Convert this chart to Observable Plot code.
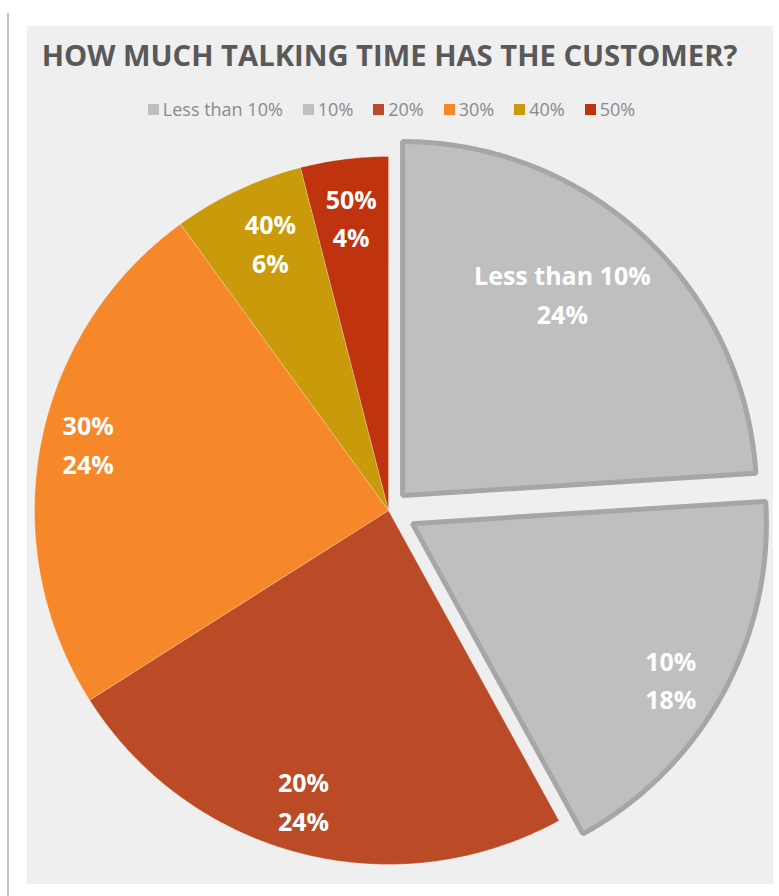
<!DOCTYPE html>
<html>
<head>
<meta charset="utf-8">
<script src="https://cdn.jsdelivr.net/npm/d3@7"></script>
<script src="https://cdn.jsdelivr.net/npm/@observablehq/plot@0.6"></script>
<style>
  html, body { margin: 0; padding: 0; background: #ffffff; }
  body { width: 779px; height: 896px; position: relative; overflow: hidden; font-family: "Open Sans", sans-serif; }
  #edge { position: absolute; left: 7px; top: 13px; width: 2px; height: 883px; background: #c4c4c4; }
  #panel { position: absolute; left: 27px; top: 26px; width: 746px; height: 858px; background: #efefef; }
  #title { position: absolute; left: 0; width: 779px; text-align: center; white-space: nowrap;
           font-weight: 700; color: #595959; line-height: 1; }
  #title span { display: inline-block; }
  #legend { position: absolute; left: 0; width: 783px; display: flex; justify-content: center;
            font-size: 18px; line-height: 18px; color: #8a8a8a; }
  .item { display: flex; align-items: center; margin: 0 10px; }
  .swatch { width: 11px; height: 11px; margin-right: 4px; }
  #chart { position: absolute; left: 0; top: 0; }
</style>
</head>
<body>
<div id="edge"></div>
<div id="panel"></div>
<div id="title"><span>HOW MUCH TALKING TIME HAS THE CUSTOMER?</span></div>
<div id="legend"></div>
<div id="chart"></div>
<script>
// ---- data ----
const categories = ["Less than 10%", "10%", "20%", "30%", "40%", "50%"];
const shares = [24, 18, 24, 24, 6, 4];
const colors = ["#bfbfbf", "#bfbfbf", "#bb4b27", "#f7882a", "#c99a09", "#c0330f"];

// ---- layout (styling, not data) ----
const explode = [0.058, 0.077, 0, 0, 0, 0];      // fraction of radius
const labelRadius = [0.73, 0.85, 0.85, 0.87, 0.83, 0.84];
const labelTurn = [-5, 2, 2, 2, 1.5, 0];          // degrees

const rows = categories.map((c, i) => ({category: c, share: shares[i], color: colors[i], i}));
const arcs = d3.pie().sort(null).value(d => d.share)(rows);

const sliceMarks = [];
const labels = [];
const order = [2, 3, 4, 5, 0, 1];
for (const k of order) {
  const a = arcs[k];
  const d = a.data;
  const mid = (a.startAngle + a.endAngle) / 2;
  const ox = explode[k] * Math.sin(mid), oy = explode[k] * Math.cos(mid);
  const pts = [{x: ox, y: oy}];
  const n = Math.max(2, Math.ceil((a.endAngle - a.startAngle) / (Math.PI / 360)));
  for (let j = 0; j <= n; j++) {
    const t = a.startAngle + (a.endAngle - a.startAngle) * j / n;
    pts.push({x: ox + Math.sin(t), y: oy + Math.cos(t)});
  }
  const gray = d.color === "#bfbfbf";
  sliceMarks.push(Plot.line(pts, {
    x: "x", y: "y", curve: "linear-closed",
    fill: d.color,
    stroke: gray ? "#a6a6a6" : "#ffffff",
    strokeOpacity: gray ? 1 : 0.3,
    strokeWidth: gray ? 5 : 1,
    strokeLinejoin: "miter"
  }));
  const la = mid + labelTurn[k] * Math.PI / 180;
  labels.push({
    x: ox + labelRadius[k] * Math.sin(la),
    y: oy + labelRadius[k] * Math.cos(la),
    text: d.category + "\n" + d.share + "%"
  });
}

const cx = 388, cy = 510, R = 354;
const plot = Plot.plot({
  width: 779, height: 896, margin: 0,
  x: {domain: [-1, 1], range: [cx - R, cx + R], axis: null},
  y: {domain: [-1, 1], range: [cy + R, cy - R], axis: null},
  style: {background: "transparent", overflow: "visible"},
  marks: [
    ...sliceMarks,
    Plot.text(labels, {
      x: "x", y: "y", text: "text", fill: "white",
      fontSize: 25, fontWeight: "bold", fontFamily: "Open Sans",
      lineHeight: 1.55
    })
  ]
});
document.getElementById("chart").appendChild(plot);

// title sizing
const title = document.getElementById("title");
const span = title.querySelector("span");
let fs = 26;
title.style.fontSize = fs + "px";
const w = span.getBoundingClientRect().width;
fs = fs * 696 / w;
title.style.fontSize = fs + "px";
title.style.top = (57 - 0.531 * fs) + "px";

// legend
const legend = document.getElementById("legend");
categories.forEach((c, i) => {
  const item = document.createElement("div");
  item.className = "item";
  const sw = document.createElement("div");
  sw.className = "swatch";
  sw.style.background = colors[i];
  const tx = document.createElement("span");
  tx.textContent = c;
  item.appendChild(sw); item.appendChild(tx);
  legend.appendChild(item);
});
legend.style.top = (110 - 0.531 * 18) + "px";
</script>
</body>
</html>
